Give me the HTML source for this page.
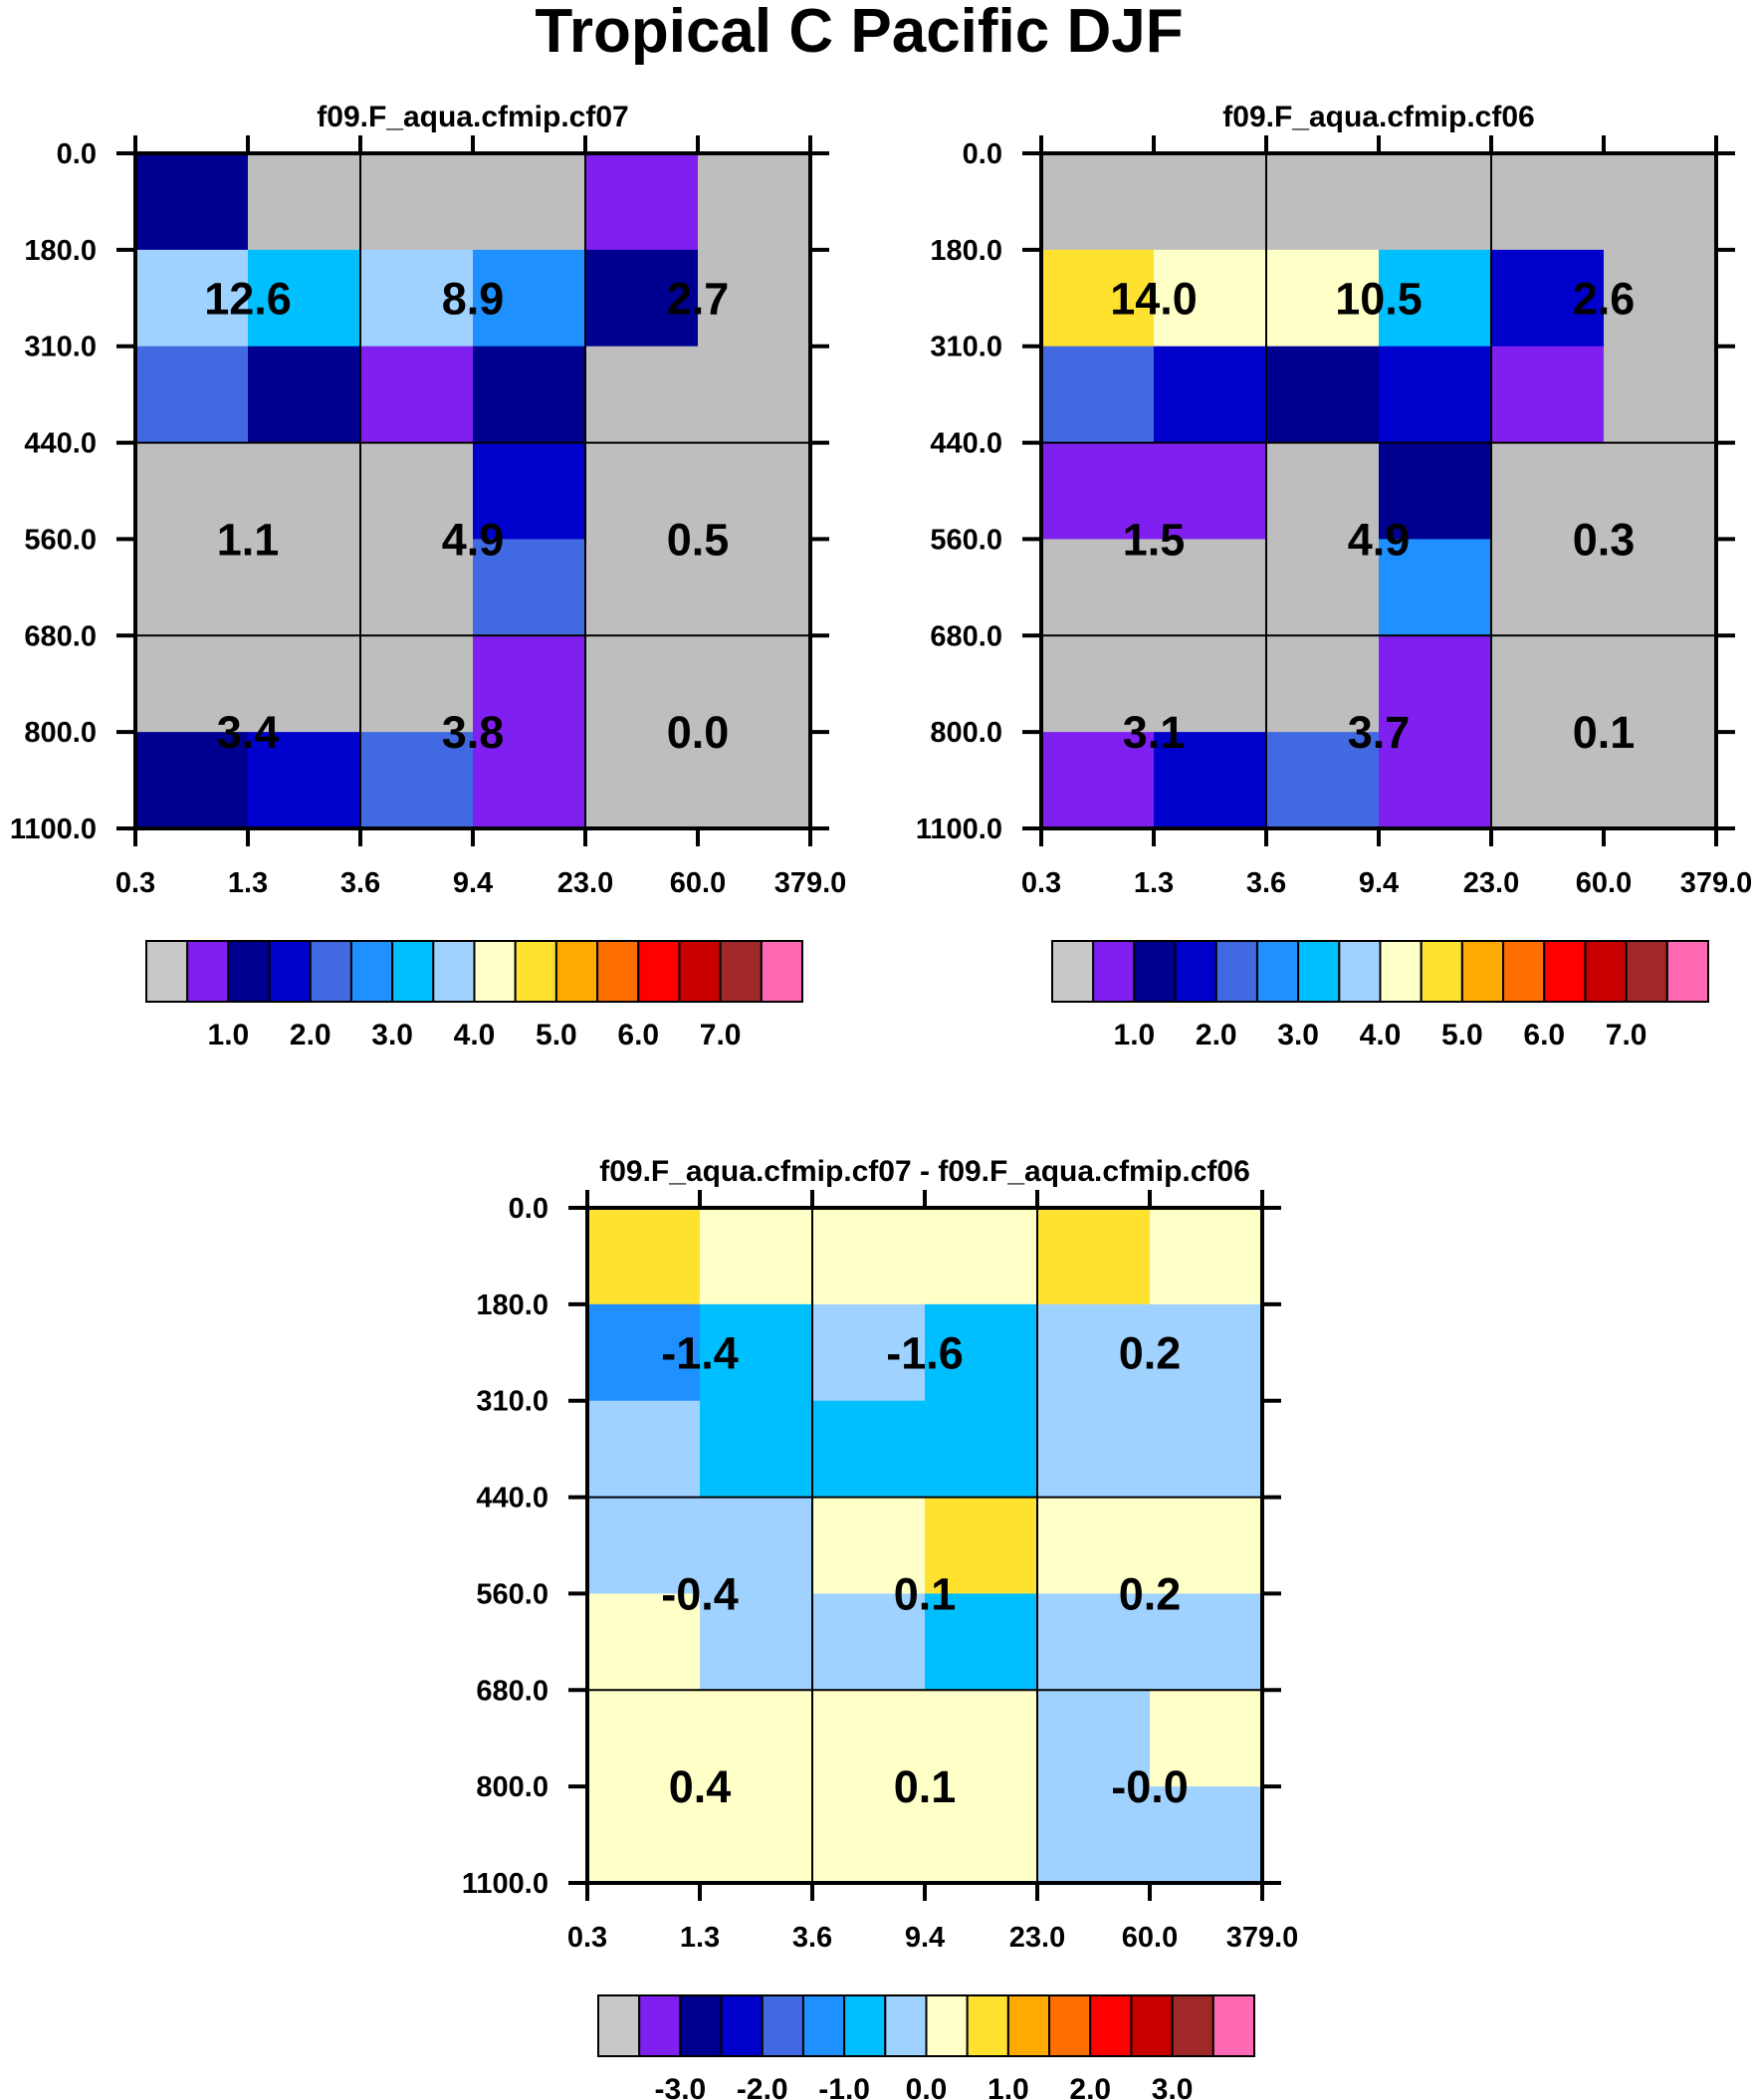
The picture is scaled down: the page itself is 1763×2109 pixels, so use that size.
<!DOCTYPE html>
<html><head><meta charset="utf-8"><style>
body{margin:0;background:#fff}
svg{display:block;font-family:"Liberation Sans",Arial,sans-serif;font-weight:bold}
</style></head><body>
<svg id="s" width="1763" height="2109" viewBox="0 0 1763 2109" xmlns="http://www.w3.org/2000/svg">
<text x="863" y="52" text-anchor="middle" font-size="62">Tropical C Pacific DJF</text>
</svg>
<script>
const palette=["#bebebe","#8020f0","#000090","#0000cd","#4169e1","#1e90ff","#00bfff","#a0d2ff","#ffffc8","#ffe130","#ffaa00","#ff6e00","#ff0000","#c80000","#a02828","#ff69b4"];
const xTicks=["0.3","1.3","3.6","9.4","23.0","60.0","379.0"];
const yTicks=["0.0","180.0","310.0","440.0","560.0","680.0","800.0","1100.0"];
const cells1=[[2,0,0,0,1,0],[7,6,7,5,2,0],[4,2,1,2,0,0],[0,0,0,3,0,0],[0,0,0,4,0,0],[0,0,0,1,0,0],[2,3,4,1,0,0]];
const cells2=[[0,0,0,0,0,0],[9,8,8,6,3,0],[4,3,2,3,1,0],[1,1,0,2,0,0],[0,0,0,5,0,0],[0,0,0,1,0,0],[1,3,4,1,0,0]];
const cells3=[[9,8,8,8,9,8],[5,6,7,6,7,7],[7,6,6,6,7,7],[7,7,8,9,8,8],[8,7,7,6,7,7],[8,8,8,8,7,8],[8,8,8,8,7,7]];
const vals1=[["12.6","8.9","2.7"],["1.1","4.9","0.5"],["3.4","3.8","0.0"]];
const vals2=[["14.0","10.5","2.6"],["1.5","4.9","0.3"],["3.1","3.7","0.1"]];
const vals3=[["-1.4","-1.6","0.2"],["-0.4","0.1","0.2"],["0.4","0.1","-0.0"]];
const cbLabels1=["1.0","2.0","3.0","4.0","5.0","6.0","7.0"];
const cbLabels3=["-3.0","-2.0","-1.0","0.0","1.0","2.0","3.0"];
const S=document.getElementById('s');const NS="http://www.w3.org/2000/svg";
function el(t,a,p){const e=document.createElementNS(NS,t);for(const k in a)e.setAttribute(k,a[k]);(p||S).appendChild(e);return e;}
function panel(x0,y0,title,cells,vals,cbLabels,name){
 const W=678,H=678,g=el('g',{});
 
 
 const cw=W/6,rh=H/7;
 const xs=i=>x0+i*cw, ys=j=>y0+j*rh;
 const t=el('text',{x:x0+W/2,y:y0-27,'text-anchor':'middle','font-size':30},g);t.textContent=title;
 
 
 cells.forEach((row,j)=>row.forEach((c,i)=>{const r=el('rect',{x:xs(i),y:ys(j),width:cw+0.5,height:rh+0.5,fill:palette[c]},g);
  
  }));
 [2,4].forEach(i=>el('line',{x1:xs(i),x2:xs(i),y1:y0,y2:y0+H,stroke:'#000','stroke-width':2},g));
 [3,5].forEach(j=>el('line',{x1:x0,x2:x0+W,y1:ys(j),y2:ys(j),stroke:'#000','stroke-width':2},g));
 el('rect',{x:x0,y:y0,width:W,height:H,fill:'none',stroke:'#000','stroke-width':4},g);
 xTicks.forEach((l,i)=>{el('line',{x1:xs(i),x2:xs(i),y1:y0-18,y2:y0,stroke:'#000','stroke-width':4},g);
  el('line',{x1:xs(i),x2:xs(i),y1:y0+H,y2:y0+H+18,stroke:'#000','stroke-width':4},g);
  const tx=el('text',{x:xs(i),y:y0+H+64,'text-anchor':'middle','font-size':29},g);tx.textContent=l;
  
  });
 yTicks.forEach((l,j)=>{el('line',{x1:x0-19,x2:x0,y1:ys(j),y2:ys(j),stroke:'#000','stroke-width':4},g);
  el('line',{x1:x0+W,x2:x0+W+19,y1:ys(j),y2:ys(j),stroke:'#000','stroke-width':4},g);
  const ty=el('text',{x:x0-39,y:ys(j)+10,'text-anchor':'end','font-size':29},g);ty.textContent=l;
  
  });
 const vy=[1.5,4,6];
 vals.forEach((row,j)=>row.forEach((v,i)=>{const tv=el('text',{x:xs(2*i+1),y:ys(vy[j])+16,'text-anchor':'middle','font-size':45},g);tv.textContent=v;
  
  }));
 const bx=x0+11,by=y0+H+113,bw=659/16,bh=61;
 palette.forEach((c,k)=>{const r=el('rect',{x:bx+k*bw,y:by,width:bw,height:bh,fill:k==0?'#c8c8c8':c,stroke:'#000','stroke-width':2},g);
  
  });
 cbLabels.forEach((l,k)=>{const tl=el('text',{x:bx+(2*k+2)*bw,y:by+bh+43,'text-anchor':'middle','font-size':30},g);tl.textContent=l;
  
  });
}
panel(136,154,"f09.F_aqua.cfmip.cf07",cells1,vals1,cbLabels1,'panel-cf07');
panel(1046,154,"f09.F_aqua.cfmip.cf06",cells2,vals2,cbLabels1,'panel-cf06');
panel(590,1213,"f09.F_aqua.cfmip.cf07 - f09.F_aqua.cfmip.cf06",cells3,vals3,cbLabels3,'panel-diff');
</script>
</body></html>
